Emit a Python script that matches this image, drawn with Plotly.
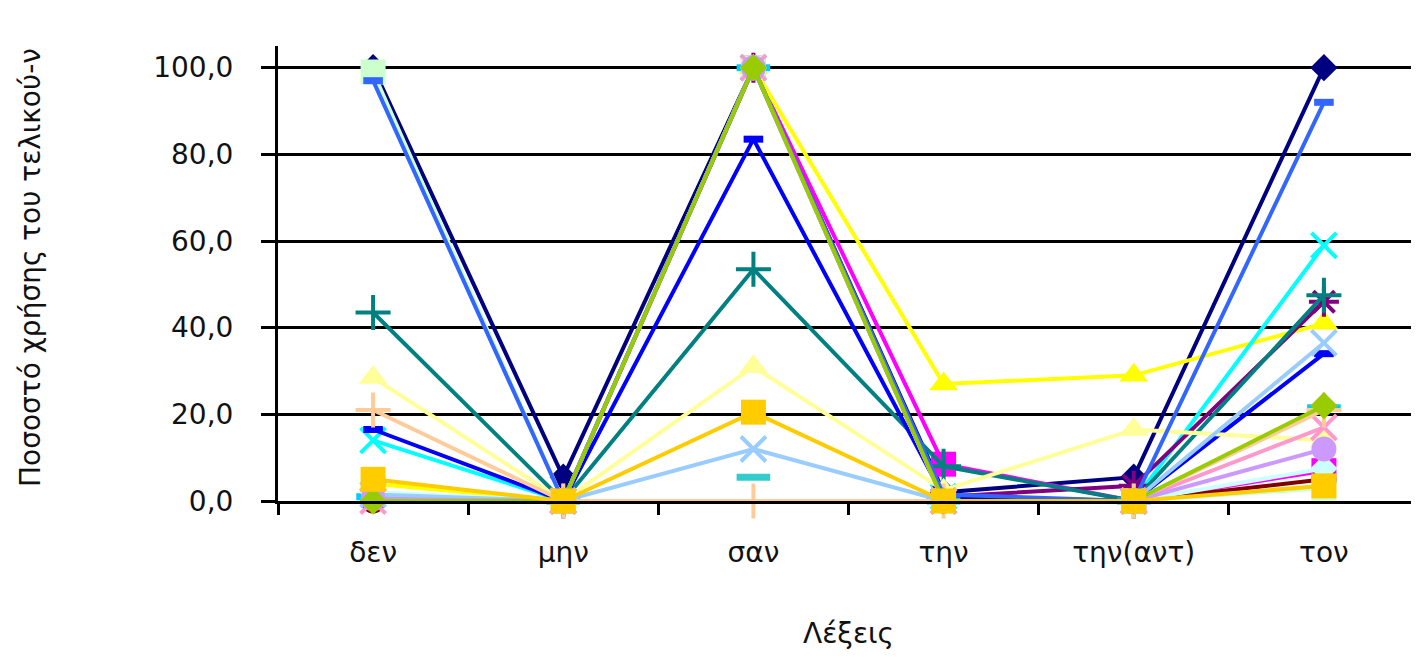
import plotly.graph_objects as go

categories = ["δεν", "μην", "σαν", "την", "την(αντ)", "τον"]

s01 = [100, 5.5, 100, 2, 5.5, 100]
s02 = [None, 0, 100, 8.5, 0, 7]
s03 = [4, 0, 100, 27, 29, 41]
s04 = [14, 0, 100, 1, 0, 59]
s05 = [1, 0, 100, 1, 3.5, 46]
s06 = [0, 0, 100, 0, 0, 5]
s07 = [43.5, 0, 53.5, 8, 0, 47.5]
s08 = [16.5, 0, 83.5, 1, 0, 34]
s09 = [1, 0, 100, 0, 0, 21.5]
s10 = [2, 0, 100, 0, 0, 7.5]
s11 = [99, 0, 100, 0, 0, 3]
s12 = [28.5, 0, 31, 2.5, 16.5, 14]
s13 = [1.5, 0, 12, 0, 0, 36.5]
s14 = [0, 0, 100, 0, 0, 17]
s15 = [0.5, 0, 100, 0, 0, 12]
s16 = [21, 0, 0, 0, 0, 21]
s17 = [97, 0, 100, 1.5, 0, 92]
s18 = [None, None, 5.5, None, None, None]
s19 = [0, 0, 100, 0, 0, 22]
s20 = [5, 0, 20.5, 0, 0, 3.5]

series = [s01, s02, s03, s04, s05, s06, s07, s08, s09, s10,
          s11, s12, s13, s14, s15, s16, s17, s18, s19, s20]
colors = ["#000080", "#FF00FF", "#FFFF00", "#00FFFF", "#800080", "#800000",
          "#008080", "#0000FF", "#00CCFF", "#CCFFFF", "#CCFFCC", "#FFFF99",
          "#99CCFF", "#FF99CC", "#CC99FF", "#FFCC99", "#3366FF", "#33CCCC",
          "#99CC00", "#FFCC00"]
markers = ["diamond", "square", "triangle", "x", "star", "circle", "plus", "dash",
           "longdash", "diamond", "square", "triangle", "x", "x", "circle", "plus",
           "dash", "longdash", "diamond", "square"]

y_ticks = [0, 20, 40, 60, 80, 100]

sym_map = {
    "diamond": ("diamond", 21, False),
    "square": ("square", 25, False),
    "triangle": ("triangle-up", 25, False),
    "x": ("x-thin-open", 25, True),
    "star": ("asterisk-open", 25, True),
    "circle": ("circle", 25, False),
    "plus": ("cross-thin-open", 25, True),
    "dash": ("line-ew-open", 14, True),
    "longdash": ("line-ew-open", 24, True),
}

fig = go.Figure()
for i, (vals, col, mk) in enumerate(zip(series, colors, markers)):
    sym, size, is_open = sym_map[mk]
    lw = 7 if mk in ("dash", "longdash") else 4
    marker = dict(symbol=sym, size=size, color=col,
                  line=dict(color=col, width=lw if is_open else 0))
    fig.add_trace(go.Scatter(
        x=categories, y=vals, mode="lines+markers", name=f"Σειρά{i+1}",
        line=dict(color=col, width=4), marker=marker, cliponaxis=False,
        connectgaps=False, showlegend=False))

font_family = "DejaVu Sans, sans-serif"
fig.update_layout(
    width=1411, height=649,
    margin=dict(l=270, r=0, t=38, b=156, autoexpand=False),
    paper_bgcolor="white", plot_bgcolor="white",
    separators=",.",
    font=dict(family=font_family, size=28, color="#111111"),
    xaxis=dict(
        type="category", range=[-0.5, 5.5], tickson="boundaries",
        ticks="outside", ticklen=11, tickwidth=3, tickcolor="black",
        showline=True, linecolor="black", linewidth=3, showgrid=False,
        ticklabelstandoff=24, tickfont=dict(size=28),
        title=dict(text="Λέξεις", font=dict(size=28), standoff=56),
        automargin=False,
    ),
    yaxis=dict(
        range=[0, 105], tickvals=y_ticks, tickformat=".1f",
        ticks="outside", ticklen=14, tickwidth=3, tickcolor="black",
        showline=True, linecolor="black", linewidth=3,
        showgrid=True, gridcolor="black", gridwidth=3, zeroline=False,
        ticklabelstandoff=22, tickfont=dict(size=28), automargin=False,
    ),
    yaxis2=dict(
        overlaying="y", range=[0, 105], tickvals=y_ticks, showticklabels=False,
        ticks="inside", ticklen=7, tickwidth=3, tickcolor="black",
        showgrid=False, zeroline=False, showline=False, side="left",
        automargin=False,
    ),
    annotations=[dict(
        text="Ποσοστό χρήσης του τελικού-ν", textangle=-90,
        xref="paper", yref="paper", x=(22 - 270) / 1141, y=(493 - 260) / 455,
        xanchor="center", yanchor="middle", showarrow=False,
        font=dict(size=28, family=font_family, color="#111111"),
    )],
)
fig.add_trace(go.Scatter(x=[categories[0]], y=[None], yaxis="y2", showlegend=False,
                         hoverinfo="skip"))

fig.write_html("out.html")
